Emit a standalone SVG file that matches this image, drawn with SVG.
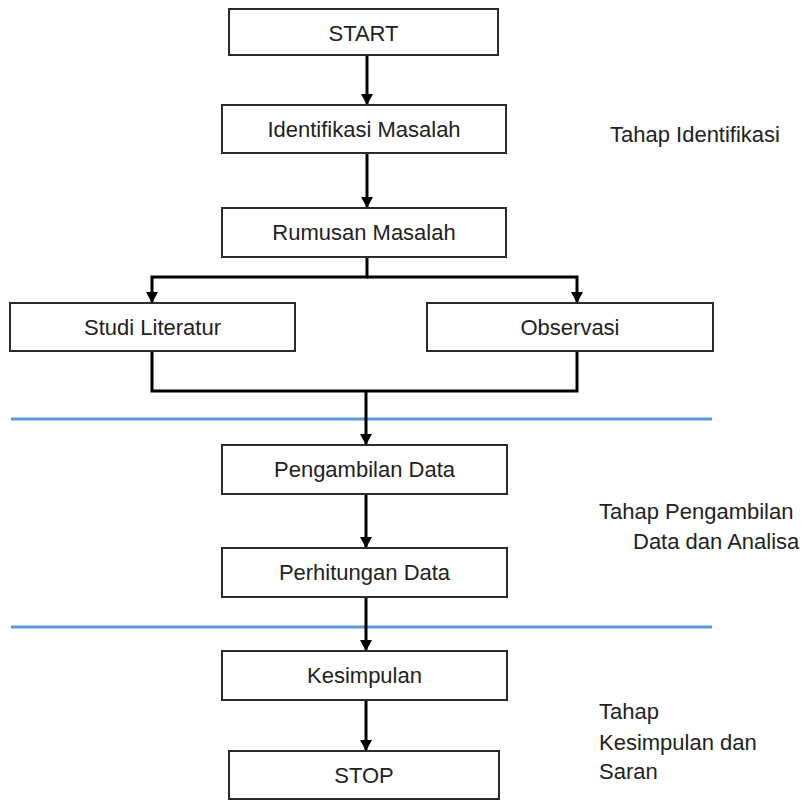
<svg xmlns="http://www.w3.org/2000/svg" width="806" height="802" viewBox="0 0 806 802">
<style>
.box{fill:#fff;stroke:#2b2b2b;stroke-width:2}
.t{font-family:"Liberation Sans",Arial,sans-serif;font-size:22px;fill:#222;text-anchor:middle}
.lbl{font-family:"Liberation Sans",Arial,sans-serif;font-size:22px;fill:#222}
.c{fill:none;stroke:#000;stroke-width:3}
.sep{stroke:#5b9bd5;stroke-width:3}
</style>
<defs>
<marker id="ah" markerWidth="11" markerHeight="12" refX="10" refY="6" orient="auto" markerUnits="userSpaceOnUse">
<path d="M0,0 L11,6 L0,12 Z" fill="#000"/>
</marker>
</defs>
<rect width="806" height="802" fill="#fff"/>
<g id="separators">
<line class="sep" x1="11" y1="419" x2="712" y2="419"/>
<line class="sep" x1="11" y1="627" x2="712" y2="627"/>
</g>
<g id="connectors">
<line class="c" x1="367" y1="55" x2="367" y2="104" marker-end="url(#ah)"/>
<line class="c" x1="367" y1="153" x2="367" y2="207" marker-end="url(#ah)"/>
<polyline class="c" points="367,257 367,277 152,277 152,302" marker-end="url(#ah)"/>
<polyline class="c" points="367,277 577,277 577,302" marker-end="url(#ah)"/>
<polyline class="c" points="152,351 152,391 577,391 577,351"/>
<line class="c" x1="366" y1="391" x2="366" y2="444" marker-end="url(#ah)"/>
<line class="c" x1="366" y1="494" x2="366" y2="547" marker-end="url(#ah)"/>
<line class="c" x1="366" y1="597" x2="366" y2="650" marker-end="url(#ah)"/>
<line class="c" x1="366" y1="700" x2="366" y2="750" marker-end="url(#ah)"/>
</g>
<g id="start"><rect class="box" x="229" y="9" width="269" height="46"/><text class="t" x="363.5" y="41">START</text></g>
<g id="identifikasi"><rect class="box" x="222" y="105" width="284" height="48"/><text class="t" x="364" y="137">Identifikasi Masalah</text></g>
<g id="rumusan"><rect class="box" x="222" y="208" width="284" height="49"/><text class="t" x="364" y="240">Rumusan Masalah</text></g>
<g id="studi"><rect class="box" x="10" y="303" width="285" height="48"/><text class="t" x="152.5" y="335">Studi Literatur</text></g>
<g id="observasi"><rect class="box" x="427" y="303" width="286" height="48"/><text class="t" x="570" y="335">Observasi</text></g>
<g id="pengambilan"><rect class="box" x="222" y="445" width="285" height="49"/><text class="t" x="364.5" y="477">Pengambilan Data</text></g>
<g id="perhitungan"><rect class="box" x="222" y="548" width="285" height="49"/><text class="t" x="364.5" y="580">Perhitungan Data</text></g>
<g id="kesimpulan"><rect class="box" x="222" y="651" width="285" height="49"/><text class="t" x="364.5" y="683">Kesimpulan</text></g>
<g id="stop"><rect class="box" x="229" y="751" width="270" height="48"/><text class="t" x="364" y="783">STOP</text></g>
<g id="labels">
<text class="lbl" x="610" y="142">Tahap Identifikasi</text>
<text class="lbl" x="599" y="519">Tahap Pengambilan</text>
<text class="lbl" x="633" y="549">Data dan Analisa</text>
<text class="lbl" x="599" y="719">Tahap</text>
<text class="lbl" x="599" y="750">Kesimpulan dan</text>
<text class="lbl" x="599" y="779">Saran</text>
</g>
</svg>
